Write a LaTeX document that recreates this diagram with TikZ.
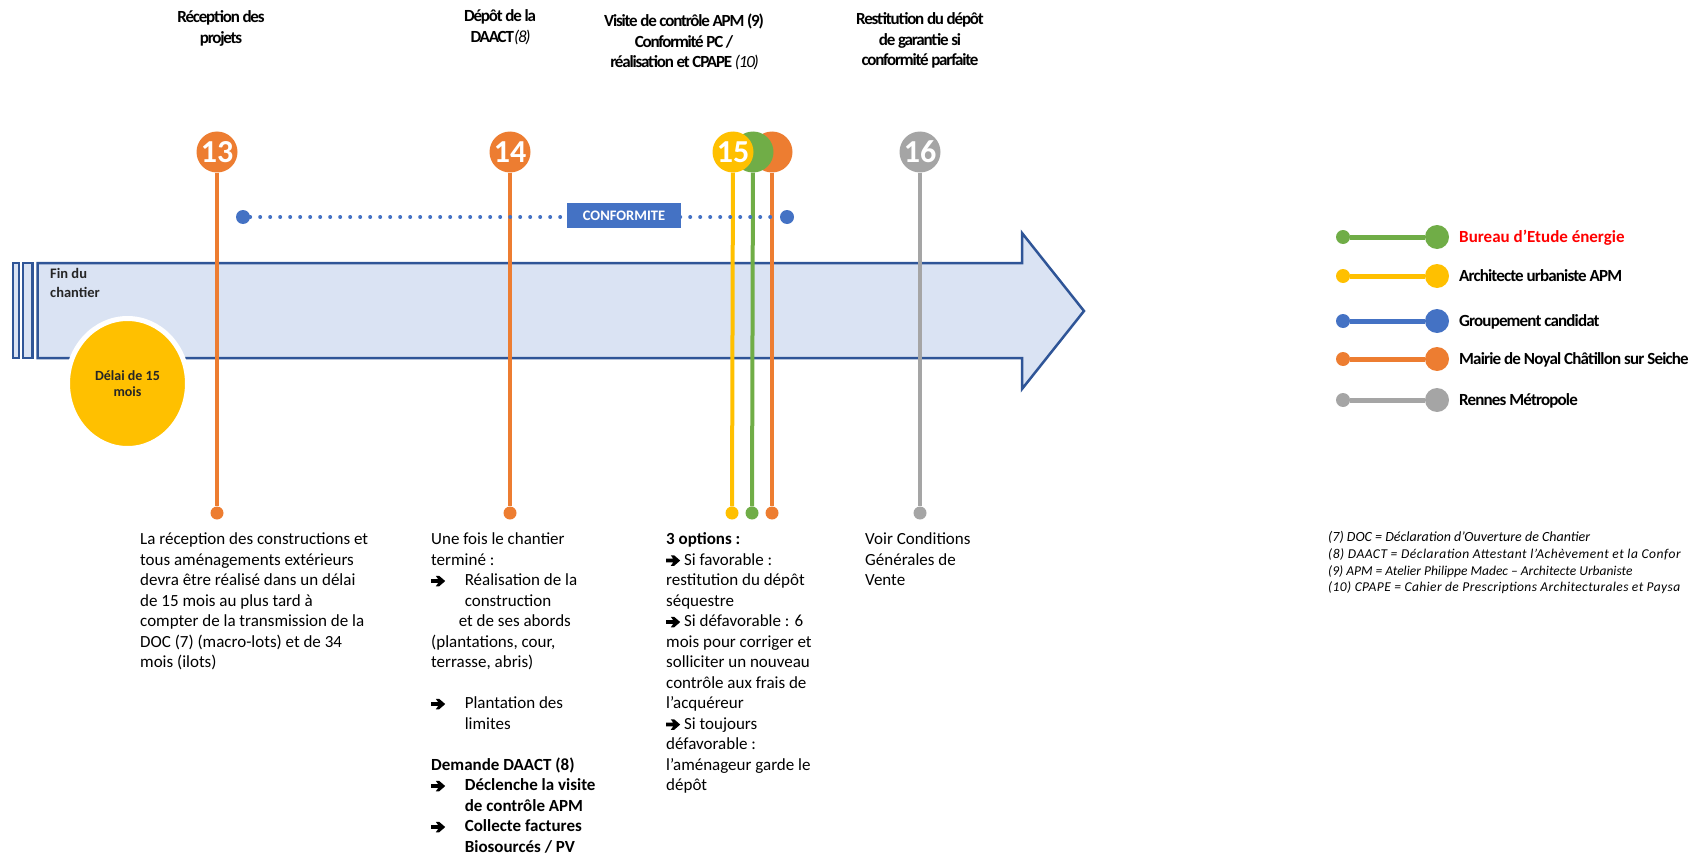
\documentclass[tikz,border=0pt]{standalone}
\usepackage{fontspec}
\setmainfont{Carlito}
\usetikzlibrary{shapes.geometric}
\definecolor{orA}{HTML}{ED7D31}
\definecolor{grA}{HTML}{70AD47}
\definecolor{ylA}{HTML}{FFC000}
\definecolor{blA}{HTML}{4472C4}
\definecolor{gyA}{HTML}{A5A5A5}
\definecolor{arFill}{HTML}{DAE3F3}
\definecolor{arLine}{HTML}{2F5597}
\definecolor{txA}{HTML}{262626}
\newcommand\fsz[2]{\fontsize{#1}{#2}\selectfont}
\newcommand\arr{\tikz[baseline=-4.5pt, x=1pt, y=1pt]\fill[black] (0,1.9) -- (7,1.9) -- (4.6,5.2) -- (8,5.2) -- (14,0) -- (8,-5.2) -- (4.6,-5.2) -- (7,-1.9) -- (0,-1.9) -- cycle;}
\newcommand\tight[1]{\addfontfeature{LetterSpace=#1}}
\begin{document}
\begin{tikzpicture}[x=1pt,y=-1pt,
  stepnum/.style={circle, minimum size=41pt, inner sep=0, text=white, font=\bfseries\fsz{32}{32}},
  enddot/.style={circle, minimum size=13pt, inner sep=0},
  bigdot/.style={circle, minimum size=24pt, inner sep=0},
  titletxt/.style={align=center, anchor=north, inner sep=0, font=\bfseries\fsz{17}{20.5}\tight{-7}},
  bodytxt/.style={align=left, anchor=north west, inner sep=0, font=\fsz{17}{20.5}},
  legtxt/.style={anchor=base west, inner sep=0, font=\bfseries\fsz{17}{20}\tight{-5}},
  fnote/.style={anchor=base west, inner sep=0, font=\itshape\fsz{13.5}{16}},
  vline/.style={line width=4pt}]
\useasboundingbox (0,0) rectangle (1695,856);

% big arrow
\draw[arLine, line width=2.5pt, fill=arFill] (37.5,263) -- (1022,263) -- (1022,233) -- (1084,311) -- (1022,389) -- (1022,358) -- (37.5,358) -- cycle;
\draw[arLine, line width=2.5pt, fill=arFill] (13,263) rectangle (19,358);
\draw[arLine, line width=2.5pt, fill=arFill] (23,263) rectangle (32.5,358);
\node[bodytxt, font=\bfseries\fsz{14.5}{19}, text=txA] (fin) at (50,265) {\strut Fin du\\chantier};

% delai ellipse
\node[ellipse, fill=ylA, draw=white, line width=5pt, minimum width=120pt, minimum height=130pt, inner sep=0, align=center, font=\bfseries\fsz{14}{16.5}, text=txA] (delai) at (127.5,383.5) {Délai de 15\\mois};

% step 13
\node[stepnum, fill=orA] (c13) at (217,152) {13};
\node[enddot, fill=orA] (d13) at (217,513) {};
\draw[orA, vline] (c13) -- (d13);
% step 14
\node[stepnum, fill=orA] (c14) at (510,152) {14};
\node[enddot, fill=orA] (d14) at (510,513) {};
\draw[orA, vline] (c14) -- (d14);
% step 15 group
\node[stepnum, fill=orA] (c15o) at (772,152) {};
\node[stepnum, fill=grA] (c15g) at (753,152) {};
\node[stepnum, fill=ylA] (c15y) at (733,152) {15};
\node[enddot, fill=orA] (d15o) at (772,513) {};
\node[enddot, fill=grA] (d15g) at (752,513) {};
\node[enddot, fill=ylA] (d15y) at (732,513) {};
\draw[orA, vline] (c15o) -- (d15o);
\draw[grA, vline] (c15g) -- (d15g);
\draw[ylA, vline] (c15y) -- (d15y);
% step 16
\node[stepnum, fill=gyA] (c16) at (920,152) {16};
\node[enddot, fill=gyA] (d16) at (920,513) {};
\draw[gyA, vline] (c16) -- (d16);

% conformite dotted line
\node[enddot, fill=blA, minimum size=14pt] (sd) at (243,217) {};
\node[enddot, fill=blA, minimum size=14pt] (ed) at (787,217) {};
\draw[blA, line width=4pt, line cap=round, dash pattern=on 0pt off 10pt] (sd) -- (ed);
\node[fill=blA, text=white, font=\bfseries\fsz{14.5}{14.5}, minimum width=114pt, minimum height=25pt, inner sep=0] (conf) at (624,215.5) {CONFORMITE};

% titles
\node[titletxt] (t13) at (221,8) {\strut Réception des\\projets};
\node[titletxt] (t14) at (500,7) {\strut Dépôt de la\\DAACT\textit{\mdseries(8)}};
\node[titletxt] (t15) at (684,12) {\strut Visite de contrôle APM (9)\\Conformité PC /\\réalisation et CPAPE \textit{\mdseries(10)}};
\node[titletxt] (t16) at (920,10) {\strut Restitution du dépôt\\de garantie si\\conformité parfaite};

% body texts
\node[bodytxt] (b13) at (140,530) {\strut La réception des constructions et\\tous aménagements extérieurs\\devra être réalisé dans un délai\\de 15 mois au plus tard à\\compter de la transmission de la\\DOC (7) (macro-lots) et de 34\\mois (ilots)};
\node[bodytxt] (b14) at (431,530) {\strut Une fois le chantier\\terminé :\\\makebox[33.6pt][l]{\arr}Réalisation de la\\\hspace*{33.6pt}construction\\\hspace*{27.6pt}et de ses abords\\(plantations, cour,\\terrasse, abris)\\\mbox{}\\\makebox[33.6pt][l]{\arr}Plantation des\\\hspace*{33.6pt}limites\\\mbox{}\\\textbf{Demande DAACT (8)}\\\makebox[33.6pt][l]{\arr}\textbf{Déclenche la visite}\\\hspace*{33.6pt}\textbf{de contrôle APM}\\\makebox[33.6pt][l]{\arr}\textbf{Collecte factures}\\\hspace*{33.6pt}\textbf{Biosourcés / PV}};
\node[bodytxt] (b15) at (666,530) {\strut\textbf{3 options :}\\\arr\ Si favorable :\\restitution du dépôt\\séquestre\\\arr\ Si défavorable : 6\\mois pour corriger et\\solliciter un nouveau\\contrôle aux frais de\\l’acquéreur\\\arr\ Si toujours\\défavorable :\\l’aménageur garde le\\dépôt};
\node[bodytxt] (b16) at (865,530) {\strut Voir Conditions\\Générales de\\Vente};

% legend
\node[enddot, fill=grA, minimum size=14pt] (l1a) at (1343,237) {};
\node[bigdot, fill=grA] (l1b) at (1437,237) {};
\draw[grA, line width=5pt] (l1a) -- (l1b);
\node[legtxt, text=red, font=\bfseries\fsz{17}{20}] (l1t) at (1459,242.5) {Bureau d’Etude énergie};
\node[enddot, fill=ylA, minimum size=14pt] (l2a) at (1343,276) {};
\node[bigdot, fill=ylA] (l2b) at (1437,276) {};
\draw[ylA, line width=5pt] (l2a) -- (l2b);
\node[legtxt] (l2t) at (1459,281.5) {Architecte urbaniste APM};
\node[enddot, fill=blA, minimum size=14pt] (l3a) at (1343,321) {};
\node[bigdot, fill=blA] (l3b) at (1437,321) {};
\draw[blA, line width=5pt] (l3a) -- (l3b);
\node[legtxt] (l3t) at (1459,326.5) {Groupement candidat};
\node[enddot, fill=orA, minimum size=14pt] (l4a) at (1343,359) {};
\node[bigdot, fill=orA] (l4b) at (1437,359) {};
\draw[orA, line width=5pt] (l4a) -- (l4b);
\node[legtxt] (l4t) at (1459,364.5) {Mairie de Noyal Châtillon sur Seiche};
\node[enddot, fill=gyA, minimum size=14pt] (l5a) at (1343,400) {};
\node[bigdot, fill=gyA] (l5b) at (1437,400) {};
\draw[gyA, line width=5pt] (l5a) -- (l5b);
\node[legtxt] (l5t) at (1459,405.5) {Rennes Métropole};

% footnotes (cut at the right edge as in the reference)
\node[fnote, font=\itshape\fsz{14}{16}] (f7) at (1328,541) {(7) DOC = Déclaration d’Ouverture de Chantier};
\node[fnote, font=\itshape\fsz{13.5}{16}\tight{4}] (f8) at (1328,558) {(8) DAACT = Déclaration Attestant l’Achèvement et la Confor};
\node[fnote] (f9) at (1328,575) {(9) APM = Atelier Philippe Madec – Architecte Urbaniste};
\node[fnote, font=\itshape\fsz{13.5}{16}\tight{3}] (f10) at (1328,591.5) {(10) CPAPE = Cahier de Prescriptions Architecturales et Paysa};
\end{tikzpicture}
\end{document}
